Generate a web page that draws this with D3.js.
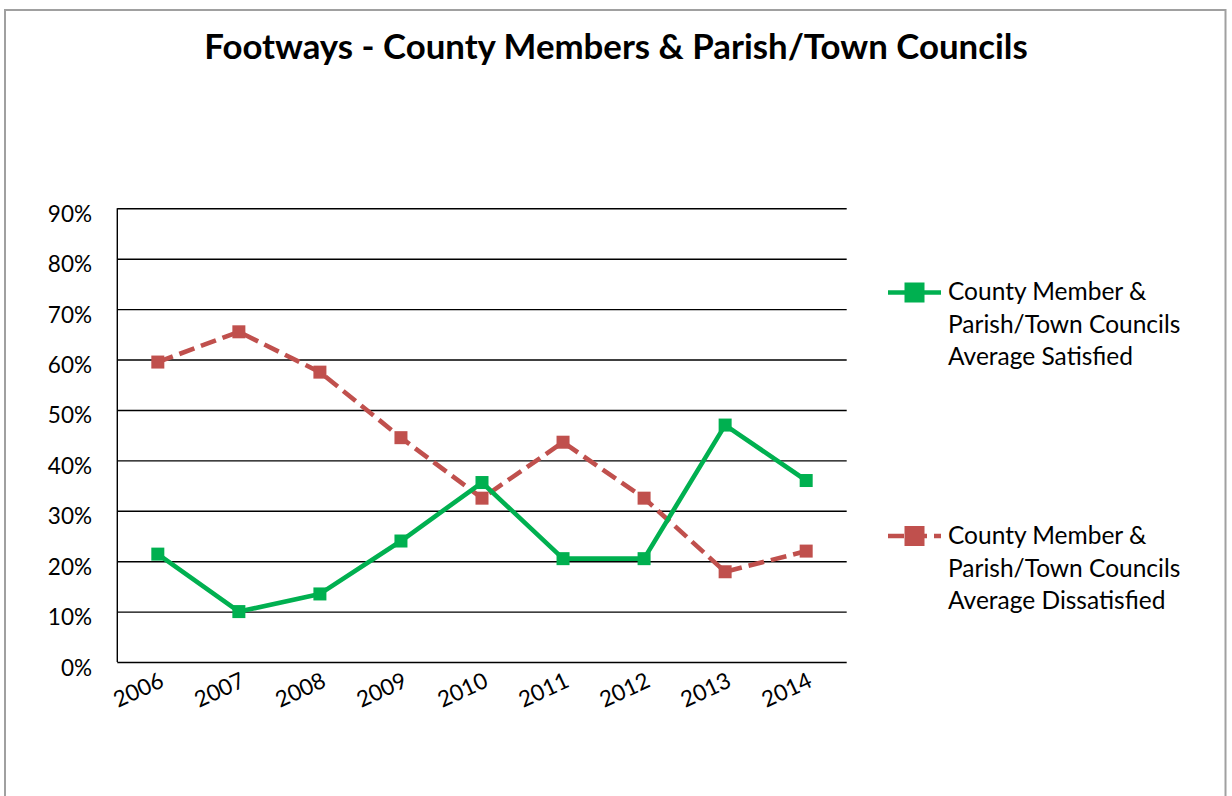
<!DOCTYPE html>
<html>
<head>
<meta charset="utf-8">
<script src="https://cdn.jsdelivr.net/npm/d3@7"></script>
<style>
  html, body { margin: 0; padding: 0; background: #fff; }
  svg { display: block; }
  text { font-family: Lato, "Open Sans", sans-serif; fill: #000; }
</style>
</head>
<body>
<svg id="chart" width="1232" height="796"></svg>
<script>
// Survey years and percentage results (fractions of respondents)
const years = ["2006", "2007", "2008", "2009", "2010", "2011", "2012", "2013", "2014"];
const satisfied = [0.214, 0.100, 0.135, 0.240, 0.356, 0.205, 0.205, 0.470, 0.360];
const dissatisfied = [0.595, 0.655, 0.575, 0.445, 0.325, 0.436, 0.325, 0.179, 0.220];
const yTicks = [0, 0.1, 0.2, 0.3, 0.4, 0.5, 0.6, 0.7, 0.8, 0.9];
const seriesNames = [
  ["County Member &", "Parish/Town Councils", "Average Satisfied"],
  ["County Member &", "Parish/Town Councils", "Average Dissatisfied"]
];
const titleText = "Footways - County Members & Parish/Town Councils";

const GREEN = "#00b050";
const RED = "#c0504d";

const svg = d3.select("#chart");

// Outer chart frame
svg.append("rect")
  .attr("x", 5).attr("y", 10)
  .attr("width", 1220.5).attr("height", 800)
  .attr("fill", "#fff")
  .attr("stroke", "#a0a0a0")
  .attr("stroke-width", 2);

// Title
svg.append("text")
  .attr("x", 616).attr("y", 59)
  .attr("text-anchor", "middle")
  .attr("font-weight", "bold")
  .attr("font-size", 34.8)
  .text(titleText);

const plot = { left: 117.3, right: 846.7, top: 208.3, bottom: 662 };

const x = d3.scalePoint().domain(years).range([plot.left, plot.right]).padding(0.5);
const y = d3.scaleLinear().domain([0, 0.9]).range([plot.bottom, plot.top]);

// Horizontal gridlines + y labels
const yAxis = svg.append("g")
  .attr("transform", `translate(${plot.left},0)`)
  .call(d3.axisLeft(y)
    .tickValues(yTicks)
    .tickSize(-(plot.right - plot.left))
    .tickPadding(25)
    .tickFormat(d3.format(".0%")));
yAxis.select(".domain").remove();
yAxis.selectAll(".tick line").attr("stroke", "#000").attr("stroke-width", 1.4);
yAxis.selectAll(".tick text")
  .attr("font-size", 22.5)
  .attr("font-family", "Lato, sans-serif")
  .attr("fill", "#000")
  .attr("dy", 13)
  .attr("x", 92 - plot.left);

// Vertical axis line
svg.append("line")
  .attr("x1", plot.left).attr("x2", plot.left)
  .attr("y1", plot.top).attr("y2", plot.bottom)
  .attr("stroke", "#000").attr("stroke-width", 1.4);

// Category labels, slanted
const xAxis = svg.append("g")
  .attr("transform", `translate(0,${plot.bottom})`)
  .call(d3.axisBottom(x).tickSize(0).tickPadding(0));
xAxis.select(".domain").remove();
xAxis.selectAll(".tick text")
  .attr("font-size", 22.5)
  .attr("font-family", "Lato, sans-serif")
  .attr("fill", "#000")
  .attr("text-anchor", "end")
  .attr("y", 0).attr("dy", 0)
  .attr("transform", "translate(7,24) rotate(-25)");

const line = d3.line()
  .x((d, i) => x(years[i]))
  .y(d => y(d));

function drawSeries(values, color, dash) {
  svg.append("path")
    .datum(values)
    .attr("fill", "none")
    .attr("stroke", color)
    .attr("stroke-width", 4.6)
    .attr("stroke-linejoin", "round")
    .attr("stroke-dasharray", dash)
    .attr("d", line);
  const m = 13;
  svg.append("g").selectAll("rect")
    .data(values)
    .join("rect")
    .attr("x", (d, i) => x(years[i]) - m / 2)
    .attr("y", d => y(d) - m / 2)
    .attr("width", m).attr("height", m)
    .attr("fill", color);
}

drawSeries(dissatisfied, RED, "16 7");
drawSeries(satisfied, GREEN, null);

// Legend
const legendItems = [
  { color: GREEN, dash: null, y: 292.5, names: seriesNames[0], base: 300 },
  { color: RED, dash: "16 7", y: 536, names: seriesNames[1], base: 544 }
];
legendItems.forEach(it => {
  const g = svg.append("g");
  g.append("line")
    .attr("x1", 888).attr("x2", 941)
    .attr("y1", it.y).attr("y2", it.y)
    .attr("stroke", it.color).attr("stroke-width", 4.6)
    .attr("stroke-dasharray", it.dash);
  g.append("rect")
    .attr("x", 904.5).attr("y", it.y - 10)
    .attr("width", 20).attr("height", 20)
    .attr("fill", it.color);
  const t = g.append("text").attr("font-size", 24.5);
  it.names.forEach((s, i) => {
    t.append("tspan").attr("x", 948).attr("y", it.base + i * 32.5).text(s);
  });
});
</script>
</body>
</html>
